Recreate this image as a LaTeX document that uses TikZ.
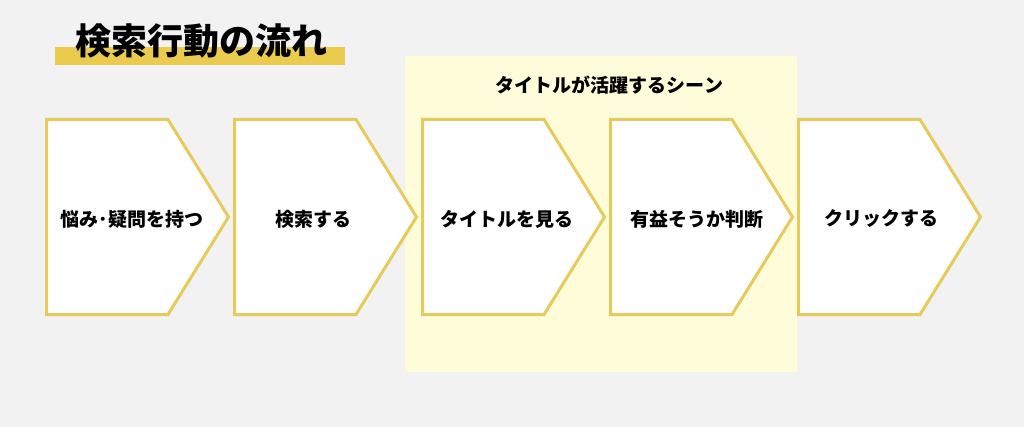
\documentclass[tikz,border=0pt]{standalone}
\usepackage{fontspec}
\setmainfont{Noto Sans CJK JP}
\usetikzlibrary{positioning}
\definecolor{bggray}{HTML}{F2F2F2}
\definecolor{scenefill}{HTML}{FEFCD9}
\definecolor{stepline}{HTML}{E6CA5C}
\definecolor{titlebar}{HTML}{EBCB4E}

\tikzset{
  chevron/.pic={\filldraw[draw=stepline,fill=white,line width=3pt,line join=miter]
    (-91,-97.5) -- (30.5,-97.5) -- (91,0) -- (30.5,97.5) -- (-91,97.5) -- cycle;},
  steptext/.style={font=\bfseries\fontsize{19}{21}\selectfont,inner sep=0pt}
}

\begin{document}
\begin{tikzpicture}[x=1pt,y=-1pt]
\useasboundingbox (0,0) rectangle (1024,427);
\fill[bggray] (0,0) rectangle (1024,427);
\fill[scenefill] (405,56) rectangle (797,372);
\fill[titlebar] (55,47) rectangle (345,65);
\node[font=\bfseries\fontsize{36}{38}\selectfont](title) at (201.5,41){検索行動の流れ};
\node[steptext](scene) at (609.5,85){タイトルが活躍するシーン};

\pic at (137.5,217) {chevron};
\pic at (325.5,217) {chevron};
\pic at (513.5,217) {chevron};
\pic at (701.5,217) {chevron};
\pic at (889.5,217) {chevron};

\node[steptext](s1) at (132,219){悩み･疑問を持つ};
\node[steptext](s2) at (313,219){検索する};
\node[steptext](s3) at (507,219){タイトルを見る};
\node[steptext](s4) at (697,219){有益そうか判断};
\node[steptext](s5) at (881,219){クリックする};

\end{tikzpicture}
\end{document}
